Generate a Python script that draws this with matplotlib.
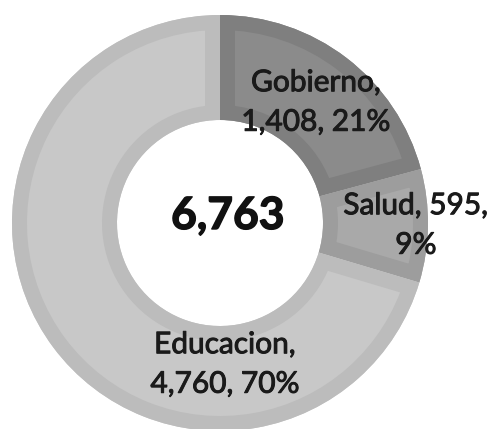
import matplotlib
matplotlib.use("Agg")
import matplotlib.pyplot as plt
import matplotlib.patheffects as pe
from matplotlib.patches import PathPatch

plt.rcParams['font.family'] = ['Lato', 'DejaVu Sans']

sectores = ["Gobierno", "Salud", "Educacion"]
valores = [1408, 595, 4760]
# where the line break goes in each label: after the name or after the value
corte = ["nombre", "valor", "nombre"]

relleno = ["#8b8b8b", "#a9a9a9", "#c8c8c8"]
borde = ["#7f7f7f", "#9d9d9d", "#bcbcbc"]

# label centres, in pixels (y from the bottom)
pos_etiquetas = [(316, 327), (416, 204), (225, 65)]

total = sum(valores)

fig = plt.figure(figsize=(4.96, 4.29), dpi=100)
ax = fig.add_axes([0, 0, 1, 1])

wedges, _ = ax.pie(valores, radius=208, center=(220, 206), startangle=90,
                   counterclock=False, colors=relleno,
                   wedgeprops=dict(width=105, linewidth=0))

# bevel look: a thick border clipped to the inside of each slice
for w, c in zip(wedges, borde):
    marco = PathPatch(w.get_path(), transform=w.get_transform(),
                      facecolor='none', edgecolor=c,
                      linewidth=2 * 15 * 0.72, joinstyle='miter')
    ax.add_patch(marco)
    marco.set_clip_path(w)

grueso = [pe.withStroke(linewidth=0.7, foreground='#1a1a1a')]
for nombre, v, c, (x, y) in zip(sectores, valores, corte, pos_etiquetas):
    pct = round(100 * v / total)
    if c == "nombre":
        txt = f"{nombre},\n{v:,}, {pct}%"
    else:
        txt = f"{nombre}, {v:,},\n{pct}%"
    ax.text(x, y, txt, ha='center', va='center', fontsize=21.5,
            color='#1a1a1a', linespacing=1.5, path_effects=grueso)

ax.text(228, 213, f"{total:,}", ha='center', va='center', fontsize=32,
        fontweight='bold', color='#111111',
        path_effects=[pe.withStroke(linewidth=1.0, foreground='#111111')])

ax.set_xlim(0, 496)
ax.set_ylim(0, 429)
ax.set_aspect('auto')
ax.axis('off')

fig.savefig("out.png", dpi=100)
